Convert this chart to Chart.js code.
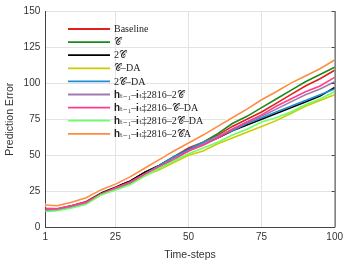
<!DOCTYPE html>
<html><head><meta charset="utf-8">
<script src="https://cdn.jsdelivr.net/npm/chart.js@4"></script>
<style>html,body{margin:0;padding:0;background:#fff}#wrap{width:347px;height:263px}</style>
</head><body><div id="wrap"><canvas id="c" width="347" height="263"></canvas></div>
<script>
const timeSteps = [1,5,10,15,20,25,30,35,40,45,50,55,60,65,70,75,80,85,90,95,100];
const xTicks = [1,25,50,75,100];
const yTicks = [0,25,50,75,100,125,150];
const labels = ['Baseline','𝒞','2𝒞','𝒞–DA','2𝒞–DA','𝐡ₜ₋₁–𝐢ₜ‡2816–2𝒞','𝐡ₜ₋₁–𝐢ₜ‡2816–𝒞–DA','𝐡ₜ₋₁–𝐢ₜ‡2816–2𝒞–DA','𝐡ₜ₋₁–𝐢ₜ‡2816–2𝒞A'];
const baseline = [13,13,15,18,24,28,32,38,43,49,55,59,64,70,75,80,86,92,98,103,109];
const seriesC = [12,12.5,15,17.5,24,28,32,38,43,49,54,59,65,72,77,83,89,95,101,106,111];
const series2C = [12,12.5,14.5,17,23.5,28,32,38,43,48.5,54,58,62,67,71,75,79,83,87,91,97];
const seriesCDA = [11.5,12,14,16.5,22.5,26.5,30,36,40,45,50,53,58,62,66,70,74,79,84,88,92];
const series2CDA = [11.5,12,14,16.5,23,27,31,37,43,49,54,59,63,67,72,76,80,84,88,92,96];
const seriesH2C = [12,12.5,14.5,17,23,27,31,37,42,48,53,58,63,68,73,77,82,87,92,96,101];
const seriesHCDA = [13,13,15,17.5,23,27.5,31.5,37,42,47,53,57,62,68,73,78,84,89,94,98,104];
const seriesH2CDA = [11,11.5,13.5,16,22.5,26,29.5,35.5,41,46,51,55,59,64,68,73,76,80,85,89,94];
const seriesH2CA = [15.5,15,17.5,20.5,26,30,35,41,47,53,58.5,64,70,76,82,88.5,94,100,105,110,116];
const colors = ['#e0201e','#1a8a1a','#000000','#cccc00','#1f8fd6','#a07ab0','#ff3d8b','#6cff6c','#ff8c40'];
const allSeries = [baseline,seriesC,series2C,seriesCDA,series2CDA,seriesH2C,seriesHCDA,seriesH2CDA,seriesH2CA];

const pts = arr => arr.map((v,i)=>({x:timeSteps[i], y:v}));
const datasets = allSeries.map((s,i)=>({label:labels[i], data:pts(s), borderColor:colors[i], backgroundColor:colors[i], borderWidth:1.6, pointRadius:0, tension:0, order: 10-i}));
// white halo under the orange line
datasets.push({label:'_halo', data:pts(seriesH2CA), borderColor:'#ffffff', borderWidth:4, pointRadius:0, tension:0, order: 1.5});
datasets[8].order = 0;

const legendPlugin = {
  id:'innerLegend',
  afterDatasetsDraw(chart){
    const ctx = chart.ctx;
    ctx.save();
    ctx.font = '10px "Liberation Serif", "DejaVu Serif", serif';
    ctx.textBaseline = 'middle';
    ctx.textAlign = 'left';
    labels.forEach((lab,i)=>{
      const y = 29 + i*13.1;
      ctx.strokeStyle = colors[i];
      ctx.lineWidth = 1.8;
      ctx.beginPath(); ctx.moveTo(68,y); ctx.lineTo(110,y); ctx.stroke();
      ctx.fillStyle = '#222';
      ctx.fillText(lab,114,y+0.5);
    });
    const a = chart.chartArea, ys = chart.scales.y;
    ctx.strokeStyle = '#444'; ctx.lineWidth = 1;
    ctx.beginPath(); ctx.moveTo(a.right+0.5,a.top); ctx.lineTo(a.right+0.5,a.bottom); ctx.stroke();
    yTicks.forEach(t=>{const py=Math.round(ys.getPixelForValue(t))+0.5; ctx.beginPath(); ctx.moveTo(a.right-3,py); ctx.lineTo(a.right,py); ctx.stroke();});
    ctx.restore();
  }
};

new Chart(document.getElementById('c'), {
  type:'line',
  data:{datasets},
  options:{
    responsive:false, animation:false, devicePixelRatio:1,
    layout:{padding:{top:7,right:12,left:4,bottom:2}},
    plugins:{legend:{display:false}, tooltip:{enabled:false}},
    scales:{
      x:{type:'linear', min:1, max:100,
        afterBuildTicks: s => { s.ticks = xTicks.map(v=>({value:v})); },
        grid:{color:'#e3e3e3', drawTicks:false},
        border:{color:'#444'},
        ticks:{color:'#333', font:{family:'"Liberation Sans", Arial, sans-serif', size:10}, padding:4, maxRotation:0},
        title:{display:true, text:'Time-steps', color:'#333', font:{family:'"Liberation Sans", Arial, sans-serif', size:10.5}, padding:{top:1,bottom:0}}
      },
      y:{min:0, max:150,
        afterBuildTicks: s => { s.ticks = yTicks.map(v=>({value:v})); },
        grid:{color:'#e3e3e3', drawTicks:false},
        border:{color:'#444'},
        ticks:{color:'#333', font:{family:'"Liberation Sans", Arial, sans-serif', size:10}, padding:5},
        title:{display:true, text:'Prediction Error', color:'#333', font:{family:'"Liberation Sans", Arial, sans-serif', size:10.5}, padding:{top:0,bottom:2}}
      }
    }
  },
  plugins:[legendPlugin]
});
</script>
</body></html>
